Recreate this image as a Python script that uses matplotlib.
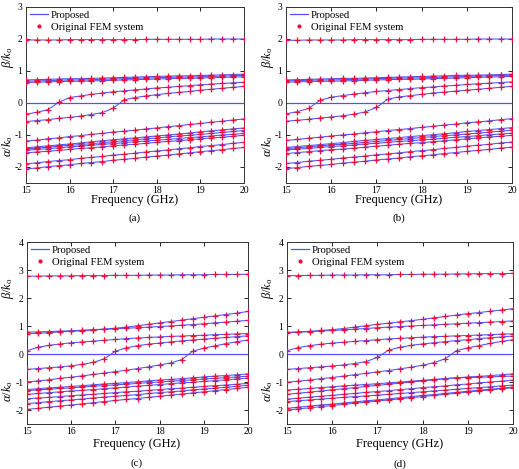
import matplotlib
matplotlib.use("Agg")
import matplotlib.pyplot as plt
from matplotlib.lines import Line2D

plt.rcParams['font.family'] = ['Liberation Serif', 'DejaVu Serif']
plt.rcParams['mathtext.fontset'] = 'custom'
plt.rcParams['mathtext.rm'] = 'Liberation Serif'
plt.rcParams['mathtext.it'] = 'Liberation Serif:italic'
plt.rcParams['axes.unicode_minus'] = False

# ---------------- data ----------------
freq = [15.0, 15.25, 15.5, 15.75, 16.0, 16.25, 16.5, 16.75, 17.0, 17.25, 17.5,
        17.75, 18.0, 18.25, 18.5, 18.75, 19.0, 19.25, 19.5, 19.75, 20.0]
zero_freq = [15.0, 20.0]
zero_vals = [0.0, 0.0]

# panel (a)
a_top = [1.97, 1.97, 1.97, 1.97, 1.98, 1.98, 1.98, 1.98, 1.98, 1.98, 1.98, 1.99, 1.99, 1.99, 1.99, 1.99, 1.99, 2.00, 2.00, 2.00, 2.00]
a_k1 = [0.64, 0.65, 0.66, 0.67, 0.68, 0.68, 0.69, 0.70, 0.71, 0.72, 0.73, 0.74, 0.75, 0.76, 0.77, 0.77, 0.78, 0.79, 0.80, 0.81, 0.82]
a_k2 = [0.68, 0.69, 0.70, 0.71, 0.72, 0.72, 0.73, 0.74, 0.75, 0.76, 0.77, 0.78, 0.79, 0.80, 0.81, 0.81, 0.82, 0.83, 0.84, 0.85, 0.86]
a_k3 = [0.72, 0.73, 0.74, 0.75, 0.76, 0.76, 0.77, 0.78, 0.79, 0.80, 0.81, 0.82, 0.83, 0.84, 0.85, 0.85, 0.86, 0.87, 0.88, 0.89, 0.90]
a_A = [-0.35, -0.29, -0.21, 0.02, 0.17, 0.22, 0.27, 0.31, 0.35, 0.38, 0.41, 0.44, 0.47, 0.49, 0.52, 0.54, 0.57, 0.59, 0.61, 0.63, 0.65]
a_B = [-0.58, -0.55, -0.52, -0.48, -0.45, -0.41, -0.36, -0.30, -0.16, 0.10, 0.17, 0.22, 0.26, 0.30, 0.33, 0.36, 0.40, 0.43, 0.46, 0.49, 0.52]
a_L1 = [-1.19, -1.16, -1.12, -1.09, -1.05, -1.02, -0.98, -0.95, -0.91, -0.88, -0.85, -0.81, -0.78, -0.74, -0.71, -0.67, -0.64, -0.60, -0.57, -0.53, -0.50]
a_L2 = [-1.40, -1.37, -1.34, -1.31, -1.28, -1.25, -1.21, -1.18, -1.15, -1.12, -1.09, -1.06, -1.03, -1.00, -0.97, -0.94, -0.90, -0.87, -0.84, -0.81, -0.78]
a_L3 = [-1.44, -1.41, -1.38, -1.35, -1.32, -1.30, -1.27, -1.24, -1.21, -1.18, -1.15, -1.12, -1.09, -1.06, -1.03, -1.01, -0.98, -0.95, -0.92, -0.89, -0.86]
a_L4 = [-1.48, -1.45, -1.43, -1.40, -1.37, -1.35, -1.32, -1.29, -1.27, -1.24, -1.21, -1.19, -1.16, -1.14, -1.11, -1.08, -1.06, -1.03, -1.00, -0.98, -0.95]
a_L5 = [-1.56, -1.53, -1.51, -1.48, -1.45, -1.42, -1.40, -1.37, -1.34, -1.31, -1.29, -1.26, -1.23, -1.20, -1.18, -1.15, -1.12, -1.09, -1.07, -1.04, -1.01]
a_L6 = [-1.90, -1.87, -1.83, -1.80, -1.77, -1.73, -1.70, -1.67, -1.63, -1.60, -1.57, -1.53, -1.50, -1.47, -1.43, -1.40, -1.36, -1.33, -1.30, -1.26, -1.23]
a_L7 = [-2.06, -2.03, -1.99, -1.96, -1.93, -1.89, -1.86, -1.83, -1.79, -1.76, -1.73, -1.69, -1.66, -1.63, -1.59, -1.56, -1.52, -1.49, -1.46, -1.42, -1.39]

# panel (b)
b_top = [1.96, 1.96, 1.97, 1.97, 1.97, 1.97, 1.98, 1.98, 1.98, 1.98, 1.98, 1.98, 1.99, 1.99, 1.99, 1.99, 1.99, 2.00, 2.00, 2.00, 2.00]
b_k1 = [0.65, 0.66, 0.67, 0.68, 0.68, 0.69, 0.70, 0.71, 0.72, 0.73, 0.74, 0.74, 0.75, 0.76, 0.77, 0.78, 0.79, 0.80, 0.81, 0.82, 0.83]
b_k2 = [0.69, 0.70, 0.71, 0.72, 0.72, 0.73, 0.74, 0.75, 0.76, 0.77, 0.78, 0.78, 0.79, 0.80, 0.81, 0.82, 0.83, 0.84, 0.85, 0.86, 0.87]
b_k3 = [0.72, 0.73, 0.74, 0.75, 0.76, 0.77, 0.77, 0.78, 0.79, 0.80, 0.81, 0.82, 0.83, 0.84, 0.85, 0.86, 0.87, 0.87, 0.88, 0.89, 0.90]
b_A = [-0.34, -0.27, -0.17, 0.08, 0.18, 0.23, 0.28, 0.32, 0.36, 0.39, 0.42, 0.45, 0.48, 0.50, 0.53, 0.55, 0.58, 0.60, 0.62, 0.64, 0.66]
b_B = [-0.57, -0.54, -0.51, -0.47, -0.44, -0.40, -0.35, -0.28, -0.14, 0.12, 0.19, 0.23, 0.27, 0.31, 0.34, 0.37, 0.40, 0.43, 0.46, 0.49, 0.52]
b_L1 = [-1.17, -1.14, -1.10, -1.07, -1.03, -1.00, -0.97, -0.93, -0.90, -0.86, -0.83, -0.80, -0.76, -0.73, -0.69, -0.66, -0.62, -0.59, -0.56, -0.52, -0.49]
b_L2 = [-1.39, -1.36, -1.33, -1.30, -1.27, -1.24, -1.20, -1.17, -1.14, -1.11, -1.08, -1.05, -1.02, -0.99, -0.96, -0.93, -0.89, -0.86, -0.83, -0.80, -0.77]
b_L3 = [-1.43, -1.40, -1.37, -1.34, -1.31, -1.29, -1.26, -1.23, -1.20, -1.17, -1.14, -1.11, -1.08, -1.05, -1.02, -1.00, -0.97, -0.94, -0.91, -0.88, -0.85]
b_L4 = [-1.47, -1.44, -1.42, -1.39, -1.36, -1.34, -1.31, -1.28, -1.26, -1.23, -1.20, -1.18, -1.15, -1.13, -1.10, -1.07, -1.05, -1.02, -0.99, -0.97, -0.94]
b_L5 = [-1.58, -1.55, -1.52, -1.49, -1.46, -1.44, -1.41, -1.38, -1.35, -1.32, -1.29, -1.26, -1.24, -1.21, -1.18, -1.15, -1.12, -1.09, -1.06, -1.04, -1.01]
b_L6 = [-1.89, -1.86, -1.82, -1.79, -1.76, -1.72, -1.69, -1.66, -1.62, -1.59, -1.56, -1.52, -1.49, -1.46, -1.42, -1.39, -1.35, -1.32, -1.29, -1.25, -1.22]
b_L7 = [-2.05, -2.02, -1.98, -1.95, -1.92, -1.88, -1.85, -1.82, -1.78, -1.75, -1.72, -1.68, -1.65, -1.62, -1.58, -1.55, -1.51, -1.48, -1.45, -1.41, -1.38]

# panel (c)
c_top = [2.78, 2.78, 2.79, 2.79, 2.79, 2.80, 2.80, 2.80, 2.81, 2.81, 2.81, 2.82, 2.82, 2.82, 2.83, 2.83, 2.83, 2.84, 2.84, 2.84, 2.85]
c_U1 = [0.78, 0.79, 0.80, 0.82, 0.83, 0.85, 0.87, 0.89, 0.92, 0.96, 1.01, 1.06, 1.11, 1.16, 1.21, 1.26, 1.31, 1.36, 1.41, 1.46, 1.52]
c_U2 = [0.72, 0.74, 0.76, 0.79, 0.81, 0.83, 0.86, 0.88, 0.90, 0.92, 0.94, 0.96, 0.98, 1.00, 1.03, 1.05, 1.08, 1.11, 1.14, 1.17, 1.20]
c_C = [0.12, 0.24, 0.31, 0.36, 0.40, 0.43, 0.46, 0.49, 0.52, 0.55, 0.57, 0.59, 0.61, 0.63, 0.64, 0.66, 0.67, 0.69, 0.70, 0.72, 0.73]
c_E = [-0.55, -0.52, -0.49, -0.46, -0.42, -0.37, -0.30, -0.17, 0.10, 0.22, 0.30, 0.35, 0.39, 0.43, 0.47, 0.50, 0.53, 0.56, 0.59, 0.62, 0.65]
c_D = [-1.00, -0.96, -0.92, -0.87, -0.83, -0.78, -0.73, -0.68, -0.63, -0.58, -0.52, -0.46, -0.39, -0.32, -0.20, 0.10, 0.21, 0.29, 0.37, 0.44, 0.50]
c_M1 = [-1.27, -1.24, -1.21, -1.19, -1.16, -1.13, -1.10, -1.07, -1.05, -1.02, -0.99, -0.96, -0.93, -0.91, -0.88, -0.85, -0.82, -0.79, -0.77, -0.74, -0.71]
c_M2 = [-1.31, -1.28, -1.26, -1.23, -1.21, -1.18, -1.15, -1.13, -1.10, -1.08, -1.05, -1.02, -1.00, -0.97, -0.95, -0.92, -0.89, -0.87, -0.84, -0.82, -0.79]
c_M3 = [-1.44, -1.41, -1.38, -1.35, -1.32, -1.30, -1.27, -1.24, -1.21, -1.18, -1.15, -1.12, -1.09, -1.06, -1.03, -1.01, -0.98, -0.95, -0.92, -0.89, -0.86]
c_M4 = [-1.60, -1.57, -1.55, -1.52, -1.49, -1.46, -1.44, -1.41, -1.38, -1.35, -1.33, -1.30, -1.27, -1.24, -1.22, -1.19, -1.16, -1.13, -1.11, -1.08, -1.05]
c_M5 = [-1.77, -1.74, -1.70, -1.67, -1.64, -1.61, -1.57, -1.54, -1.51, -1.48, -1.45, -1.41, -1.38, -1.35, -1.32, -1.28, -1.25, -1.22, -1.19, -1.15, -1.12]
c_M6 = [-1.98, -1.94, -1.90, -1.86, -1.82, -1.78, -1.74, -1.70, -1.66, -1.62, -1.59, -1.55, -1.51, -1.47, -1.43, -1.39, -1.35, -1.31, -1.27, -1.23, -1.19]

# panel (d)
d_top = [2.80, 2.80, 2.81, 2.81, 2.82, 2.82, 2.82, 2.83, 2.83, 2.83, 2.84, 2.84, 2.85, 2.85, 2.85, 2.86, 2.86, 2.87, 2.87, 2.87, 2.88]
d_U1 = [0.77, 0.79, 0.81, 0.84, 0.87, 0.91, 0.96, 1.01, 1.06, 1.10, 1.15, 1.19, 1.24, 1.29, 1.34, 1.39, 1.44, 1.48, 1.53, 1.57, 1.62]
d_U2 = [0.76, 0.78, 0.80, 0.82, 0.84, 0.86, 0.89, 0.91, 0.94, 0.96, 0.98, 1.00, 1.02, 1.04, 1.06, 1.08, 1.10, 1.12, 1.14, 1.16, 1.18]
d_C = [0.12, 0.23, 0.30, 0.35, 0.39, 0.42, 0.45, 0.48, 0.51, 0.54, 0.56, 0.58, 0.60, 0.62, 0.63, 0.65, 0.66, 0.68, 0.69, 0.71, 0.72]
d_E = [-0.55, -0.52, -0.49, -0.46, -0.43, -0.39, -0.34, -0.27, -0.12, 0.14, 0.24, 0.31, 0.36, 0.40, 0.44, 0.48, 0.51, 0.55, 0.58, 0.61, 0.64]
d_D = [-1.01, -0.97, -0.93, -0.88, -0.84, -0.79, -0.74, -0.69, -0.64, -0.59, -0.53, -0.47, -0.40, -0.31, -0.17, 0.12, 0.22, 0.30, 0.38, 0.45, 0.51]
d_N1 = [-1.29, -1.26, -1.23, -1.20, -1.17, -1.14, -1.11, -1.09, -1.06, -1.03, -1.00, -0.97, -0.94, -0.91, -0.88, -0.85, -0.82, -0.80, -0.77, -0.74, -0.71]
d_N2 = [-1.44, -1.40, -1.36, -1.32, -1.28, -1.24, -1.20, -1.16, -1.12, -1.08, -1.04, -1.00, -0.96, -0.92, -0.88, -0.85, -0.84, -0.83, -0.82, -0.80, -0.79]
d_N3 = [-1.61, -1.58, -1.54, -1.51, -1.48, -1.44, -1.41, -1.37, -1.34, -1.31, -1.27, -1.24, -1.20, -1.17, -1.14, -1.10, -1.07, -1.03, -1.00, -0.97, -0.93]
d_N4 = [-1.70, -1.67, -1.64, -1.61, -1.58, -1.55, -1.52, -1.50, -1.47, -1.44, -1.41, -1.38, -1.35, -1.32, -1.29, -1.26, -1.23, -1.20, -1.17, -1.14, -1.11]
d_N5 = [-1.94, -1.90, -1.86, -1.82, -1.79, -1.75, -1.71, -1.67, -1.64, -1.60, -1.56, -1.52, -1.48, -1.45, -1.41, -1.37, -1.33, -1.29, -1.26, -1.22, -1.18]
d_N6 = [-2.00, -1.96, -1.92, -1.88, -1.84, -1.80, -1.76, -1.72, -1.68, -1.64, -1.60, -1.56, -1.52, -1.48, -1.44, -1.40, -1.36, -1.32, -1.28, -1.24, -1.20]

curves_a = [a_top, a_k1, a_k2, a_k3, a_A, a_B, a_L1, a_L2, a_L3, a_L4, a_L5, a_L6, a_L7]
curves_b = [b_top, b_k1, b_k2, b_k3, b_A, b_B, b_L1, b_L2, b_L3, b_L4, b_L5, b_L6, b_L7]
curves_c = [c_top, c_U1, c_U2, c_C, c_E, c_D, c_M1, c_M2, c_M3, c_M4, c_M5, c_M6]
curves_d = [d_top, d_U1, d_U2, d_C, d_E, d_D, d_N1, d_N2, d_N3, d_N4, d_N5, d_N6]

xticks = [15, 16, 17, 18, 19, 20]
yticks_top = [-2, -1, 0, 1, 2, 3]
yticks_bot = [-2, -1, 0, 1, 2, 3, 4]
captions = ['(a)', '(b)', '(c)', '(d)']
legend_labels = ['Proposed', 'Original FEM system']

# ---------------- layout ----------------
W, H = 519, 469
fig = plt.figure(figsize=(W / 100, H / 100), dpi=100)

def px_rect(l, r, t, b):
    return [l / W, 1 - b / H, (r - l) / W, (b - t) / H]

def ftext(x, y, s, **kw):
    fig.text(x / W, 1 - y / H, s, ha='center', va='center', **kw)

panels = [
    (curves_a, px_rect(26, 244, 7, 183), (-2.5, 3), yticks_top, 135, 7.5, 57, 146, 200, 218),
    (curves_b, px_rect(286, 512, 7, 183), (-2.5, 3), yticks_top, 399, 267.5, 57, 146, 200, 218),
    (curves_c, px_rect(27, 248, 242, 424), (-2.5, 4), yticks_bot, 137, 7.5, 288, 391, 444, 463),
    (curves_d, px_rect(287, 513, 242, 424), (-2.5, 4), yticks_bot, 400, 267.5, 288, 391, 444, 464),
]

blue = '#5050ff'
red = '#e8103a'

for i, (curves, rect, ylim, yt, xc, ylx, by, ay, xly, cy) in enumerate(panels):
    ax = fig.add_axes(rect)
    ax.plot(zero_freq, zero_vals, color=blue, lw=0.9, zorder=2)
    for vals in curves:
        ax.plot(freq, vals, color=blue, lw=0.75, zorder=2)
        ax.plot(freq, vals, ls='none', marker='+', ms=4.5, mew=0.9, color=red, zorder=3)
    ax.set_xlim(15, 20)
    ax.set_ylim(*ylim)
    ax.set_xticks(xticks)
    ax.set_yticks(yt)
    ax.tick_params(direction='in', length=3, width=0.6, top=True, right=True,
                   labelsize=7, pad=2.5, colors='black')
    for sp in ax.spines.values():
        sp.set_linewidth(0.7)
        sp.set_color('#333333')
    handles = [Line2D([], [], color=blue, lw=0.9),
               Line2D([], [], ls='none', marker='.', ms=4, color=red)]
    ax.legend(handles, legend_labels, loc='upper left', frameon=False,
              fontsize=7.7, handlelength=1.7, handletextpad=0.3,
              borderaxespad=0.15, labelspacing=0.2, borderpad=0.2)
    ftext(ylx, by, r'$\beta/k_{\rm o}$', fontsize=9, rotation=90)
    ftext(ylx, ay, r'$\alpha/k_{\rm o}$', fontsize=9, rotation=90)
    ftext(xc, xly, 'Frequency (GHz)', fontsize=9)
    ftext(xc, cy, captions[i], fontsize=8)

fig.savefig('out.png', dpi=100)
